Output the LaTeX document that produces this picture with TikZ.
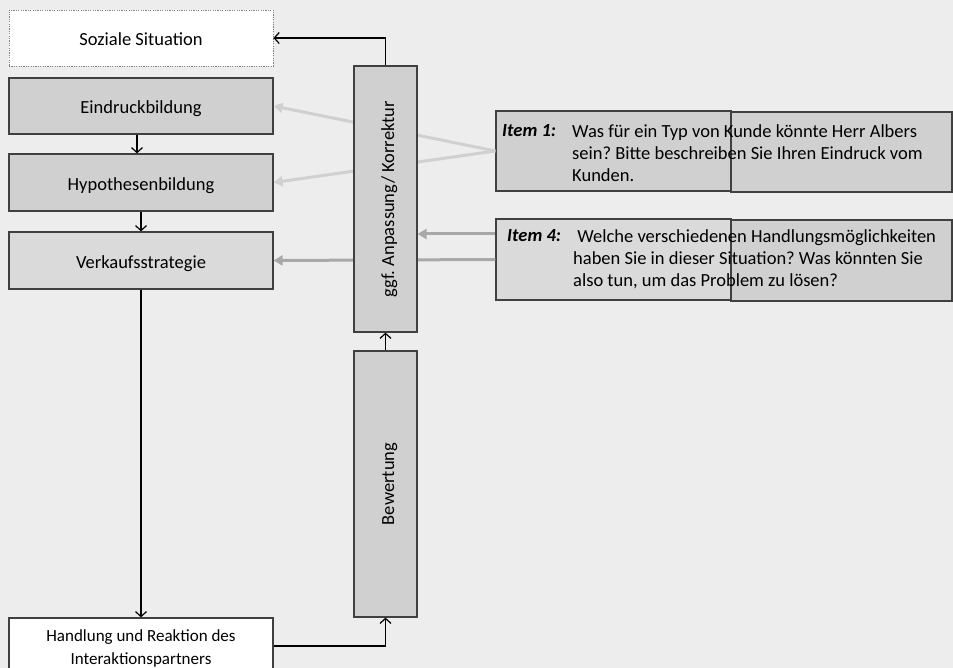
\documentclass[tikz,border=0pt]{standalone}
\usepackage{fontspec}
\setmainfont{Carlito}
\usetikzlibrary{arrows.meta}
\definecolor{bg}{HTML}{EDEDED}
\definecolor{boxfill}{HTML}{D0D0D0}
\definecolor{boxfilllight}{HTML}{DADADA}
\definecolor{edge}{HTML}{404040}
\definecolor{pale}{HTML}{D0D0D0}
\definecolor{mid}{HTML}{A8A8A8}
\newcommand{\labelfont}{\fontsize{18.5}{22}\selectfont}
\frenchspacing
\begin{document}
\begin{tikzpicture}[x=1pt,y=-1pt,
  box/.style={draw=edge, line width=1.2pt, fill=boxfill, rectangle, inner sep=0pt,
    minimum width=264pt, minimum height=57pt, font=\labelfont, text height=18pt, text depth=2pt},
  lightbox/.style={box, fill=boxfilllight},
  whitebox/.style={box, fill=white},
  dottedbox/.style={whitebox, draw=gray, line width=0.9pt, dash pattern=on 1.2pt off 1.2pt},
  column/.style={box, minimum width=63pt, minimum height=266pt},
  itembox/.style={box, minimum height=80pt},
  columntext/.style={rotate=90, font=\labelfont, text height=18pt, text depth=1pt},
  itemtext/.style={inner sep=0pt, align=left, anchor=north west, font=\labelfont},
  itemlabel/.style={inner sep=0pt, anchor=base west, font=\labelfont\bfseries\itshape},
  flow/.style={draw=black, line width=1.2pt, -{Straight Barb[length=5pt,width=11pt,line width=1.2pt]}},
  palearrow/.style={draw=pale, line width=3pt, -{Triangle[length=9pt,width=10pt]}},
  midarrow/.style={draw=mid, line width=3pt, -{Triangle[length=9pt,width=10pt]}},
]
% canvas
\fill[bg] (0,0) rectangle (953,668);
\useasboundingbox (0,0) rectangle (953,668);

% left-hand process chain
\node[dottedbox, minimum height=56pt] (soz) at (141,38) {Soziale Situation};
\node[box, minimum height=56pt] (eind) at (141,106) {Eindruckbildung};
\node[box] (hypo) at (141,182.5) {Hypothesenbildung};
\node[lightbox] (verk) at (141,260.5) {Verkaufsstrategie};
\node[whitebox, minimum height=60pt, align=center, text height=, text depth=,
  font=\fontsize{17}{23}\selectfont] (hand) at (141,648)
  {Handlung und Reaktion des\\Interaktionspartners};

% item boxes (two overlapping panels each)
\node[itembox, minimum width=235pt] (ia) at (613.5,151) {};
\node[itembox, minimum width=221pt] (ib) at (841.5,152) {};
\node[itembox, fill=boxfilllight, minimum width=235pt, minimum height=81pt] (iva) at (613.5,259.5) {};
\node[itembox, minimum width=221pt, minimum height=81pt] (ivb) at (841.5,260.5) {};

% upper exit point of the second item
\coordinate (ivtop) at ([yshift=25.5pt]iva.west);

% influence of the items (drawn beneath the vertical column)
\draw[palearrow] (ia.west) -- (eind.east);
\draw[palearrow] (ia.west) -- (hypo.east);
\draw[midarrow] (iva.west) -- (verk.east);

% vertical columns
\node[column] (ggf) at (385.5,199) {};
\node[columntext] at (ggf.center) {ggf. Anpassung/ Korrektur};
\node[column] (bew) at (385.5,484) {};
\node[columntext] at (bew.center) {Bewertung};

\draw[midarrow] (ivtop) -- (ivtop -| ggf.east);

% item texts
\node[itemlabel] at (502,137) {Item 1:};
\node[itemtext] (t1) at (572,124) {Was für ein Typ von Kunde könnte Herr Albers\\sein? Bitte beschreiben Sie Ihren Eindruck vom\\Kunden.};
\node[itemlabel] at (507,242) {Item 4:};
\node[itemtext] (t4) at (573,229) {\ Welche verschiedenen Handlungsmöglichkeiten\\haben Sie in dieser Situation? Was könnten Sie\\also tun, um das Problem zu lösen?};

% flow connectors
\draw[flow] ([xshift=-4pt]eind.south) -- ([xshift=-4pt]eind.south |- hypo.north);
\draw[flow] (hypo.south) -- (verk.north);
\draw[flow] (verk.south) -- (hand.north);
\draw[flow] ([yshift=2pt]hand.east) -| (bew.south);
\draw[flow] (bew.north) -- (ggf.south);
\draw[flow] (ggf.north) |- (soz.east);
\end{tikzpicture}
\end{document}
